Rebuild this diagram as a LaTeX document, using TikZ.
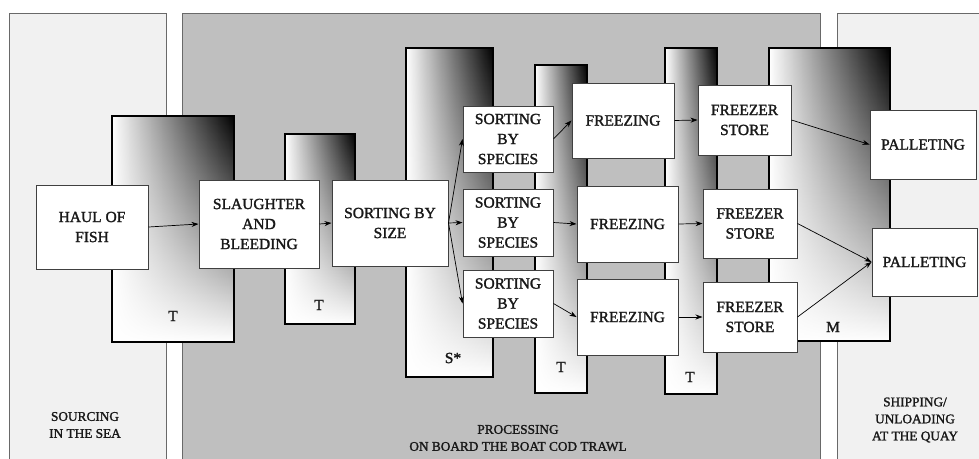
\documentclass[tikz,border=0pt]{standalone}
\usepackage{fontspec}
\setmainfont{Liberation Serif}[FakeBold=1.6]
\usepackage{xcolor}
\definecolor{seagray}{RGB}{241,241,241}
\definecolor{boardgray}{RGB}{191,191,191}
\definecolor{edgegray}{RGB}{105,105,105}
\definecolor{inkgray}{RGB}{25,25,25}
\usetikzlibrary{arrows.meta,positioning,fadings}
\tikzset{
  panel/.style={draw=edgegray,line width=0.8pt},
  gradbar/.style={rectangle,draw=black,line width=1.8pt,
        left color=white,right color=black,inner sep=0pt,outer sep=0pt,
        path picture={\fill[white,path fading=north]
          (path picture bounding box.south west) rectangle
          (path picture bounding box.north east);}},
  stepbox/.style={rectangle,draw=black!75,fill=white,line width=1pt,
        align=center,text=inkgray,inner sep=0pt,
        font=\fontsize{15.5}{20}\selectfont},
  barlabel/.style={text=inkgray,font=\fontsize{15.5}{18}\selectfont},
  zonelabel/.style={align=center,text=inkgray,font=\fontsize{13.3}{17}\selectfont},
  flow/.style={-{Stealth[length=7pt,width=5pt]},line width=0.7pt,black}
}
\begin{document}
\begin{tikzpicture}[x=1pt,y=-1pt]
  \useasboundingbox[fill=white] (0,0) rectangle (979,458);
  % Zones
  \begin{scope}
    \clip (0,0) rectangle (979,458);
    \draw[panel,fill=seagray] (9,13) rectangle (166,470);
    \draw[panel,fill=boardgray] (182,13) rectangle (820,470);
    \draw[panel,fill=seagray] (837,13) rectangle (995,470);
  \end{scope}
  \node[zonelabel] (seaLabel) at (85,425) {SOURCING\\IN THE SEA};
  \node[zonelabel] (boardLabel) at (518,438) {PROCESSING\\ON BOARD THE BOAT COD TRAWL};
  \node[zonelabel] (quayLabel) at (915,420) {SHIPPING/\\UNLOADING\\AT THE QUAY};

  % Shaded bars
  \node[gradbar,minimum width=122pt,minimum height=226pt] (barA) at (173,229) {};
  \node[gradbar,minimum width=70pt,minimum height=190pt] (barB) at (320,229) {};
  \node[gradbar,minimum width=87pt,minimum height=329pt] (barC) at (449.5,212.5) {};
  \node[gradbar,minimum width=52pt,minimum height=328pt] (barD) at (561,229) {};
  \node[gradbar,minimum width=52pt,minimum height=346pt] (barE) at (691,221) {};
  \node[gradbar,minimum width=121pt,minimum height=293pt] (barF) at (829.5,194.5) {};
  \node[barlabel] (labA) at (173,316) {T};
  \node[barlabel] (labB) at (319,305) {T};
  \node[barlabel] (labC) at (453,358) {S*};
  \node[barlabel] (labD) at (561,367) {T};
  \node[barlabel] (labE) at (690,377) {T};
  \node[barlabel] (labF) at (833,327) {M};

  % Steps
  \node[stepbox,minimum width=112pt,minimum height=84pt] (haul) at (92,227) {HAUL OF\\FISH};
  \node[stepbox,minimum width=120pt,minimum height=88pt] (slaughter) at (259,224)
    {SLAUGHTER\\AND\\BLEEDING};
  \node[stepbox,minimum width=116pt,minimum height=86pt] (sizeSort) at (390,223)
    {SORTING BY\\SIZE};
  \node[stepbox,minimum width=90pt,minimum height=66pt] (species1) at (508,139)
    {SORTING\\BY\\SPECIES};
  \node[stepbox,minimum width=90pt,minimum height=67pt] (species2) at (508,222.5)
    {SORTING\\BY\\SPECIES};
  \node[stepbox,minimum width=90pt,minimum height=67pt] (species3) at (508,303.5)
    {SORTING\\BY\\SPECIES};
  \node[stepbox,minimum width=102pt,minimum height=75pt] (freeze1) at (623,120.5) {FREEZING};
  \node[stepbox,minimum width=101pt,minimum height=76pt] (freeze2) at (627.5,224) {FREEZING};
  \node[stepbox,minimum width=101pt,minimum height=76pt] (freeze3) at (627.5,317) {FREEZING};
  \node[stepbox,minimum width=93pt,minimum height=70pt] (store1) at (744.5,120) {FREEZER\\STORE};
  \node[stepbox,minimum width=94pt,minimum height=69pt] (store2) at (750,223.5) {FREEZER\\STORE};
  \node[stepbox,minimum width=94pt,minimum height=70pt] (store3) at (750,317) {FREEZER\\STORE};
  \node[stepbox,minimum width=106pt,minimum height=69pt] (pallet1) at (923,144.5) {PALLETING};
  \node[stepbox,minimum width=105pt,minimum height=68pt] (pallet2) at (924.5,262) {PALLETING};

  % Flow
  \draw[flow] (haul.east) -- (slaughter.west);
  \draw[flow] (slaughter.east) -- (sizeSort.west);
  \draw[flow] (sizeSort.east) -- (species1.west);
  \draw[flow] (sizeSort.east) -- (species2.west);
  \draw[flow] (sizeSort.east) -- (species3.west);
  \draw[flow] (species1.east) -- (freeze1.west);
  \draw[flow] (species2.east) -- (freeze2.west);
  \draw[flow] (species3.east) -- (freeze3.west);
  \draw[flow] (freeze1.east) -- (store1.west);
  \draw[flow] (freeze2.east) -- (store2.west);
  \draw[flow] (freeze3.east) -- (store3.west);
  \draw[flow] (store1.east) -- (pallet1.west);
  \draw[flow] (store2.east) -- (pallet2.west);
  \draw[flow] (store3.east) -- (pallet2.west);
\end{tikzpicture}
\end{document}
